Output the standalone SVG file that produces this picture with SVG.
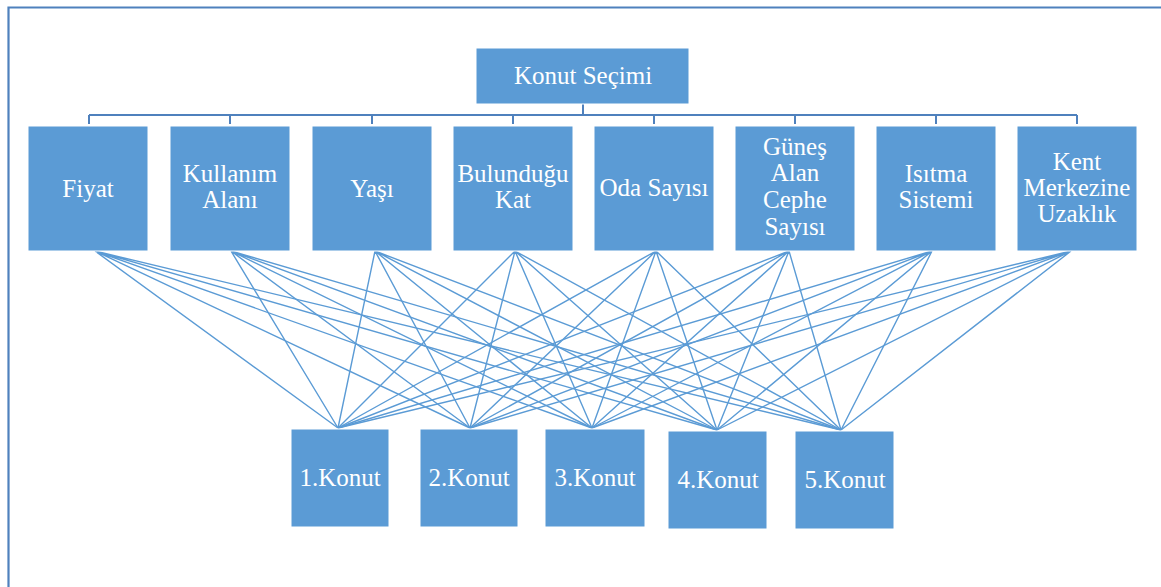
<svg xmlns="http://www.w3.org/2000/svg" width="1161" height="587" viewBox="0 0 1161 587">
<style>
.box{fill:#5b9bd5;stroke:#ffffff;stroke-width:1}
.t{font-family:'Liberation Serif','Times New Roman',serif;font-size:25px;fill:#ffffff;text-anchor:middle}
.bus{stroke:#4f81bd;stroke-width:2;fill:none}
.ln{stroke:#5b9bd5;stroke-width:1.4;fill:none}
.frame{stroke:#4f81bd;stroke-width:2.2;fill:none}
</style>
<rect width="1161" height="587" fill="#ffffff"/>
<path class="frame" d="M8.5 587 V7.5 H1161"/>
<g id="connectors">
<path class="bus" d="M583 104 V115 M89 115 H1077 M89 115 V124 M230 115 V124 M372 115 V124 M513 115 V124 M654 115 V124 M795 115 V124 M936 115 V124 M1077 115 V124"/>
<g class="ln">
<path d="M95 251 L338 428 M95 251 L470 428 M95 251 L592 428 M95 251 L717 430 M95 251 L841 430"/>
<path d="M231 251 L338 428 M231 251 L470 428 M231 251 L592 428 M231 251 L717 430 M231 251 L841 430"/>
<path d="M375 251 L338 428 M375 251 L470 428 M375 251 L592 428 M375 251 L717 430 M375 251 L841 430"/>
<path d="M515 251 L338 428 M515 251 L470 428 M515 251 L592 428 M515 251 L717 430 M515 251 L841 430"/>
<path d="M656 251 L338 428 M656 251 L470 428 M656 251 L592 428 M656 251 L717 430 M656 251 L841 430"/>
<path d="M789 251 L338 428 M789 251 L470 428 M789 251 L592 428 M789 251 L717 430 M789 251 L841 430"/>
<path d="M932 251 L338 428 M932 251 L470 428 M932 251 L592 428 M932 251 L717 430 M932 251 L841 430"/>
<path d="M1071 251 L338 428 M1071 251 L470 428 M1071 251 L592 428 M1071 251 L717 430 M1071 251 L841 430"/>
</g>
</g>
<g font-family="Liberation Serif, Times New Roman, serif">
<g id="root"><rect class="box" x="476" y="48" width="213" height="56"/><text class="t" x="583" y="84">Konut Seçimi</text></g>
<g id="fiyat"><rect class="box" x="28" y="126" width="120" height="125"/><text class="t" x="88" y="197">Fiyat</text></g>
<g id="kullanim"><rect class="box" x="170" y="126" width="120" height="125"/><text class="t" x="230" y="182">Kullanım</text><text class="t" x="230" y="208">Alanı</text></g>
<g id="yasi"><rect class="box" x="312" y="126" width="120" height="125"/><text class="t" x="372" y="197">Yaşı</text></g>
<g id="kat"><rect class="box" x="453" y="126" width="120" height="125"/><text class="t" x="513" y="182">Bulunduğu</text><text class="t" x="513" y="208">Kat</text></g>
<g id="oda"><rect class="box" x="594" y="126" width="120" height="125"/><text class="t" x="654" y="196">Oda Sayısı</text></g>
<g id="gunes"><rect class="box" x="735" y="126" width="120" height="125"/><text class="t" x="795" y="155">Güneş</text><text class="t" x="795" y="181">Alan</text><text class="t" x="795" y="208">Cephe</text><text class="t" x="795" y="235">Sayısı</text></g>
<g id="isitma"><rect class="box" x="876" y="126" width="120" height="125"/><text class="t" x="936" y="182">Isıtma</text><text class="t" x="936" y="208">Sistemi</text></g>
<g id="kent"><rect class="box" x="1017" y="126" width="120" height="125"/><text class="t" x="1077" y="170">Kent</text><text class="t" x="1077" y="196">Merkezine</text><text class="t" x="1077" y="222">Uzaklık</text></g>
<g id="konut1"><rect class="box" x="291" y="429" width="98" height="98"/><text class="t" x="340" y="486">1.Konut</text></g>
<g id="konut2"><rect class="box" x="420" y="429" width="98" height="98"/><text class="t" x="469" y="486">2.Konut</text></g>
<g id="konut3"><rect class="box" x="545" y="429" width="100" height="98"/><text class="t" x="595" y="486">3.Konut</text></g>
<g id="konut4"><rect class="box" x="668" y="431" width="99" height="98"/><text class="t" x="718" y="488">4.Konut</text></g>
<g id="konut5"><rect class="box" x="795" y="431" width="99" height="98"/><text class="t" x="845" y="488">5.Konut</text></g>
</g>
</svg>
